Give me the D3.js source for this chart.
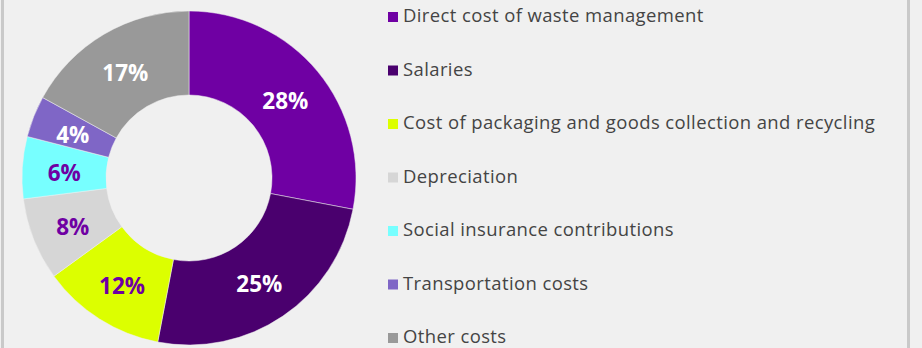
<!DOCTYPE html>
<html>
<head>
<meta charset="utf-8">
<script src="https://cdn.jsdelivr.net/npm/d3@7"></script>
<style>
  html, body { margin: 0; padding: 0; background: #f0f0f0; }
  svg { display: block; }
</style>
</head>
<body>
<svg id="chart" width="922" height="348"></svg>
<script>
// Cost structure, share of total (%)
const categories = [
  "Direct cost of waste management",
  "Salaries",
  "Cost of packaging and goods collection and recycling",
  "Depreciation",
  "Social insurance contributions",
  "Transportation costs",
  "Other costs"
];
const shares = [28, 25, 12, 8, 6, 4, 17];
const sliceColors = ["#6f00a3", "#4a006e", "#dcff00", "#d6d6d6", "#77ffff", "#7f66c6", "#999999"];
const labelColors = ["#ffffff", "#ffffff", "#6f00a3", "#6f00a3", "#6f00a3", "#ffffff", "#ffffff"];

const svg = d3.select("#chart");
const W = 922, H = 348;

svg.append("rect").attr("width", W).attr("height", H).attr("fill", "#f0f0f0");

// frame edges
svg.append("rect").attr("x", 1).attr("y", 0).attr("width", 3).attr("height", H).attr("fill", "#c9c9c9");
svg.append("rect").attr("x", 907).attr("y", 0).attr("width", 3).attr("height", H).attr("fill", "#c9c9c9");

const data = categories.map((c, i) => ({ name: c, value: shares[i], color: sliceColors[i], label: labelColors[i] }));

const cx = 189, cy = 178, rOuter = 167, rInner = 83;

const pie = d3.pie().value(d => d.value).sort(null);
const arc = d3.arc().innerRadius(rInner).outerRadius(rOuter);
const labelArc = d3.arc().innerRadius((rInner + rOuter) / 2).outerRadius((rInner + rOuter) / 2);

const g = svg.append("g").attr("transform", `translate(${cx},${cy})`);
const arcs = pie(data);

g.selectAll("path.slice")
  .data(arcs)
  .join("path")
  .attr("class", "slice")
  .attr("d", arc)
  .attr("fill", d => d.data.color)
  .attr("stroke", "#f0f0f0")
  .attr("stroke-width", 0.5);

g.selectAll("text.pct")
  .data(arcs)
  .join("text")
  .attr("class", "pct")
  .attr("transform", d => `translate(${labelArc.centroid(d)})`)
  .attr("text-anchor", "middle")
  .attr("dy", "0.47em")
  .attr("font-family", "'Open Sans', sans-serif")
  .attr("font-weight", 700)
  .attr("font-size", 22.5)
  .attr("fill", d => d.data.label)
  .text(d => d3.format(".0f")(d.data.value) + "%");

// legend
const legendY = d3.scalePoint().domain(categories).range([22, 343]);
const legend = svg.append("g");
const rows = legend.selectAll("g.row")
  .data(data)
  .join("g")
  .attr("class", "row")
  .attr("transform", d => `translate(0,${legendY(d.name)})`);

rows.append("rect")
  .attr("x", 388).attr("y", -10)
  .attr("width", 10).attr("height", 10)
  .attr("fill", d => d.color);

const texts = rows.append("text")
  .attr("x", 403)
  .attr("y", 0)
  .attr("font-family", "'Open Sans', sans-serif")
  .attr("font-size", 17)
  .attr("letter-spacing", 0.4)
  .attr("fill", "#444444")
  .text(d => d.name);

// size the legend font so the first entry spans its intended width
const w0 = texts.nodes()[0].getComputedTextLength();
const fs = 17 * 302 / w0;
texts.attr("font-size", fs);
</script>
</body>
</html>
